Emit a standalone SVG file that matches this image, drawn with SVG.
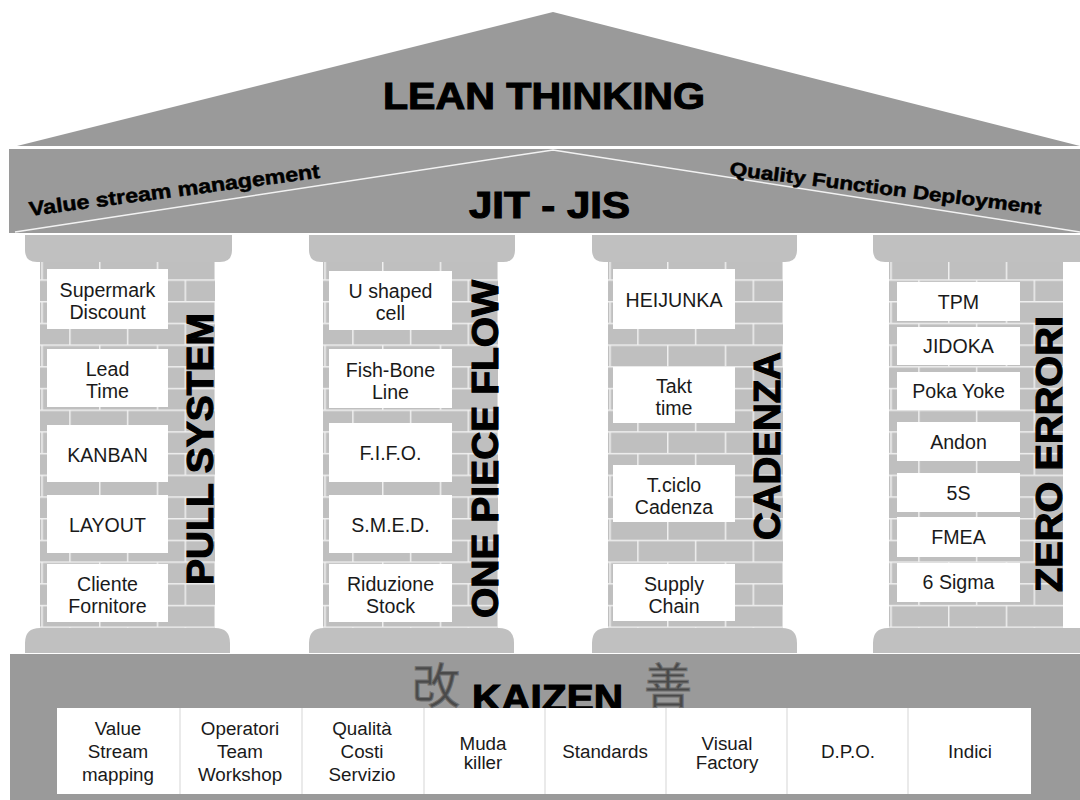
<svg xmlns="http://www.w3.org/2000/svg" width="1080" height="800" viewBox="0 0 1080 800">
  <defs>
    <style>
      .stone { fill: #9a9a9a; }
      .cap { fill: #c0c0c0; }
      .shaft { fill: url(#bricks); }
      .card { fill: #ffffff; }
      .t { font-family: "Liberation Sans", Arial, sans-serif; font-size: 19.6px; fill: #1a1a1a; text-anchor: middle; }
      .tb { font-family: "Liberation Sans", Arial, sans-serif; font-size: 18.8px; fill: #1a1a1a; text-anchor: middle; }
      .head { font-family: "Liberation Sans", Arial, sans-serif; font-weight: bold; fill: #000; stroke: #000; stroke-width: 1.1; }
      .sub { font-family: "Liberation Sans", Arial, sans-serif; font-weight: bold; fill: #000; stroke: #000; stroke-width: 0.5; }
      .kanji { font-family: "Noto Sans CJK JP", "Noto Sans CJK SC", sans-serif; font-size: 48px; fill: #4a4a4a; stroke: #6e6e6e; stroke-width: 1; }
    </style>
    <!-- staggered brick courses for the column shafts -->
    <pattern id="bricks" patternUnits="userSpaceOnUse" x="1.3" y="257.6" width="57.7" height="43.4">
      <rect width="57.7" height="43.4" fill="#bfbfbf"/>
      <path d="M0,0.75H57.7M0,22.45H57.7M0.75,0V21.7M28.6,21.7V43.4" stroke="#efefef" stroke-width="1.5" fill="none"/>
    </pattern>
  </defs>

  <rect width="1080" height="800" fill="#ffffff"/>

  <!-- pediment -->
  <g id="roof">
    <polygon class="stone" points="17,146 553,12 1080,146"/>
    <text class="head" x="383" y="109" font-size="37" textLength="322" lengthAdjust="spacingAndGlyphs">LEAN THINKING</text>
  </g>

  <!-- architrave -->
  <g id="beam">
    <rect class="stone" x="9" y="149" width="1071" height="84"/>
    <polyline points="15,232 553,150 1080,232" fill="none" stroke="#f2f2f2" stroke-width="1.5"/>
    <text class="sub" transform="translate(30 216) rotate(-7.5)" font-size="20" textLength="293" lengthAdjust="spacingAndGlyphs">Value stream management</text>
    <text class="sub" transform="translate(729 175) rotate(7.2)" font-size="19" textLength="314" lengthAdjust="spacingAndGlyphs">Quality Function Deployment</text>
    <text class="head" x="469" y="218" font-size="37" textLength="161" lengthAdjust="spacingAndGlyphs">JIT - JIS</text>
  </g>

  <!-- column 1 -->
  <g id="col-pull-system">
    <path class="cap" d="M25,235H232V250Q232,262 220,262H37Q25,262 25,250Z"/>
    <rect class="shaft" transform="translate(40 0)" y="262" width="175" height="366"/>
    <path class="cap" d="M25,653V643Q25,628 40,628H215Q230,628 230,643V653Z"/>
    <rect class="card" x="47" y="269" width="121" height="60"/>
    <rect class="card" x="47" y="349" width="121" height="58"/>
    <rect class="card" x="47" y="425" width="121" height="57"/>
    <rect class="card" x="47" y="495" width="121" height="58"/>
    <rect class="card" x="47" y="564" width="121" height="58"/>
    <text class="t" x="107.5" y="297">Supermark</text>
    <text class="t" x="107.5" y="319">Discount</text>
    <text class="t" x="107.5" y="376">Lead</text>
    <text class="t" x="107.5" y="398">Time</text>
    <text class="t" x="107.5" y="462">KANBAN</text>
    <text class="t" x="107.5" y="532">LAYOUT</text>
    <text class="t" x="107.5" y="591">Cliente</text>
    <text class="t" x="107.5" y="613">Fornitore</text>
    <text class="head" transform="translate(213 585) rotate(-90)" font-size="36" textLength="272" lengthAdjust="spacingAndGlyphs">PULL SYSTEM</text>
  </g>

  <!-- column 2 -->
  <g id="col-one-piece-flow">
    <path class="cap" d="M309,235H515V250Q515,262 503,262H321Q309,262 309,250Z"/>
    <rect class="shaft" transform="translate(323 0)" y="262" width="175" height="366"/>
    <path class="cap" d="M309,653V643Q309,628 324,628H499Q514,628 514,643V653Z"/>
    <rect class="card" x="329" y="271" width="123" height="59"/>
    <rect class="card" x="329" y="349" width="123" height="59"/>
    <rect class="card" x="329" y="423" width="123" height="59"/>
    <rect class="card" x="329" y="495" width="123" height="58"/>
    <rect class="card" x="329" y="564" width="123" height="58"/>
    <text class="t" x="390.5" y="298">U shaped</text>
    <text class="t" x="390.5" y="320">cell</text>
    <text class="t" x="390.5" y="377">Fish-Bone</text>
    <text class="t" x="390.5" y="399">Line</text>
    <text class="t" x="390.5" y="460">F.I.F.O.</text>
    <text class="t" x="390.5" y="532">S.M.E.D.</text>
    <text class="t" x="390.5" y="591">Riduzione</text>
    <text class="t" x="390.5" y="613">Stock</text>
    <text class="head" transform="translate(498 618) rotate(-90)" font-size="36" textLength="338" lengthAdjust="spacingAndGlyphs">ONE PIECE FLOW</text>
  </g>

  <!-- column 3 -->
  <g id="col-cadenza">
    <path class="cap" d="M592,235H797V250Q797,262 785,262H604Q592,262 592,250Z"/>
    <rect class="shaft" transform="translate(608 0)" y="262" width="175" height="366"/>
    <path class="cap" d="M592,653V643Q592,628 607,628H782Q797,628 797,643V653Z"/>
    <rect class="card" x="613" y="269" width="122" height="60"/>
    <rect class="card" x="613" y="367" width="122" height="56"/>
    <rect class="card" x="613" y="465" width="122" height="57"/>
    <rect class="card" x="613" y="564" width="122" height="57"/>
    <text class="t" x="674" y="307">HEIJUNKA</text>
    <text class="t" x="674" y="393">Takt</text>
    <text class="t" x="674" y="415">time</text>
    <text class="t" x="674" y="492">T.ciclo</text>
    <text class="t" x="674" y="514">Cadenza</text>
    <text class="t" x="674" y="591">Supply</text>
    <text class="t" x="674" y="613">Chain</text>
    <text class="head" transform="translate(780 540) rotate(-90)" font-size="36" textLength="188" lengthAdjust="spacingAndGlyphs">CADENZA</text>
  </g>

  <!-- column 4 -->
  <g id="col-zero-errori">
    <path class="cap" d="M873,235H1080V262H885Q873,262 873,250Z"/>
    <rect class="shaft" transform="translate(889 0)" y="262" width="174" height="366"/>
    <path class="cap" d="M873,653V643Q873,628 888,628H1080V653Z"/>
    <rect class="card" x="897" y="282" width="123" height="39"/>
    <rect class="card" x="897" y="327" width="123" height="38"/>
    <rect class="card" x="897" y="372" width="123" height="38"/>
    <rect class="card" x="897" y="422" width="123" height="39"/>
    <rect class="card" x="897" y="473" width="123" height="39"/>
    <rect class="card" x="897" y="517" width="123" height="40"/>
    <rect class="card" x="897" y="563" width="123" height="39"/>
    <text class="t" x="958.5" y="309">TPM</text>
    <text class="t" x="958.5" y="353">JIDOKA</text>
    <text class="t" x="958.5" y="398">Poka Yoke</text>
    <text class="t" x="958.5" y="449">Andon</text>
    <text class="t" x="958.5" y="500">5S</text>
    <text class="t" x="958.5" y="544">FMEA</text>
    <text class="t" x="958.5" y="589">6 Sigma</text>
    <text class="head" transform="translate(1062 592) rotate(-90)" font-size="36" textLength="276" lengthAdjust="spacingAndGlyphs">ZERO ERRORI</text>
  </g>

  <!-- stylobate -->
  <g id="kaizen-base">
    <rect class="stone" x="10" y="654" width="1070" height="146"/>
    <text class="kanji" x="412" y="703">改</text>
    <text class="kanji" x="644" y="703">善</text>
    <text class="head" x="472" y="711" font-size="37" textLength="151" lengthAdjust="spacingAndGlyphs">KAIZEN</text>
    <rect class="card" x="57" y="708" width="974" height="86"/>
    <path d="M180,708V794M302,708V794M424,708V794M545,708V794M666,708V794M787,708V794M908,708V794" stroke="#dcdcdc" stroke-width="1.2" fill="none"/>
    <text class="tb" x="118" y="735">Value</text>
    <text class="tb" x="118" y="758">Stream</text>
    <text class="tb" x="118" y="781">mapping</text>
    <text class="tb" x="240" y="735">Operatori</text>
    <text class="tb" x="240" y="758">Team</text>
    <text class="tb" x="240" y="781">Workshop</text>
    <text class="tb" x="362" y="735">Qualità</text>
    <text class="tb" x="362" y="758">Costi</text>
    <text class="tb" x="362" y="781">Servizio</text>
    <text class="tb" x="483" y="750">Muda</text>
    <text class="tb" x="483" y="769">killer</text>
    <text class="tb" x="605" y="758">Standards</text>
    <text class="tb" x="727" y="750">Visual</text>
    <text class="tb" x="727" y="769">Factory</text>
    <text class="tb" x="848" y="758">D.P.O.</text>
    <text class="tb" x="970" y="758">Indici</text>
  </g>
</svg>
